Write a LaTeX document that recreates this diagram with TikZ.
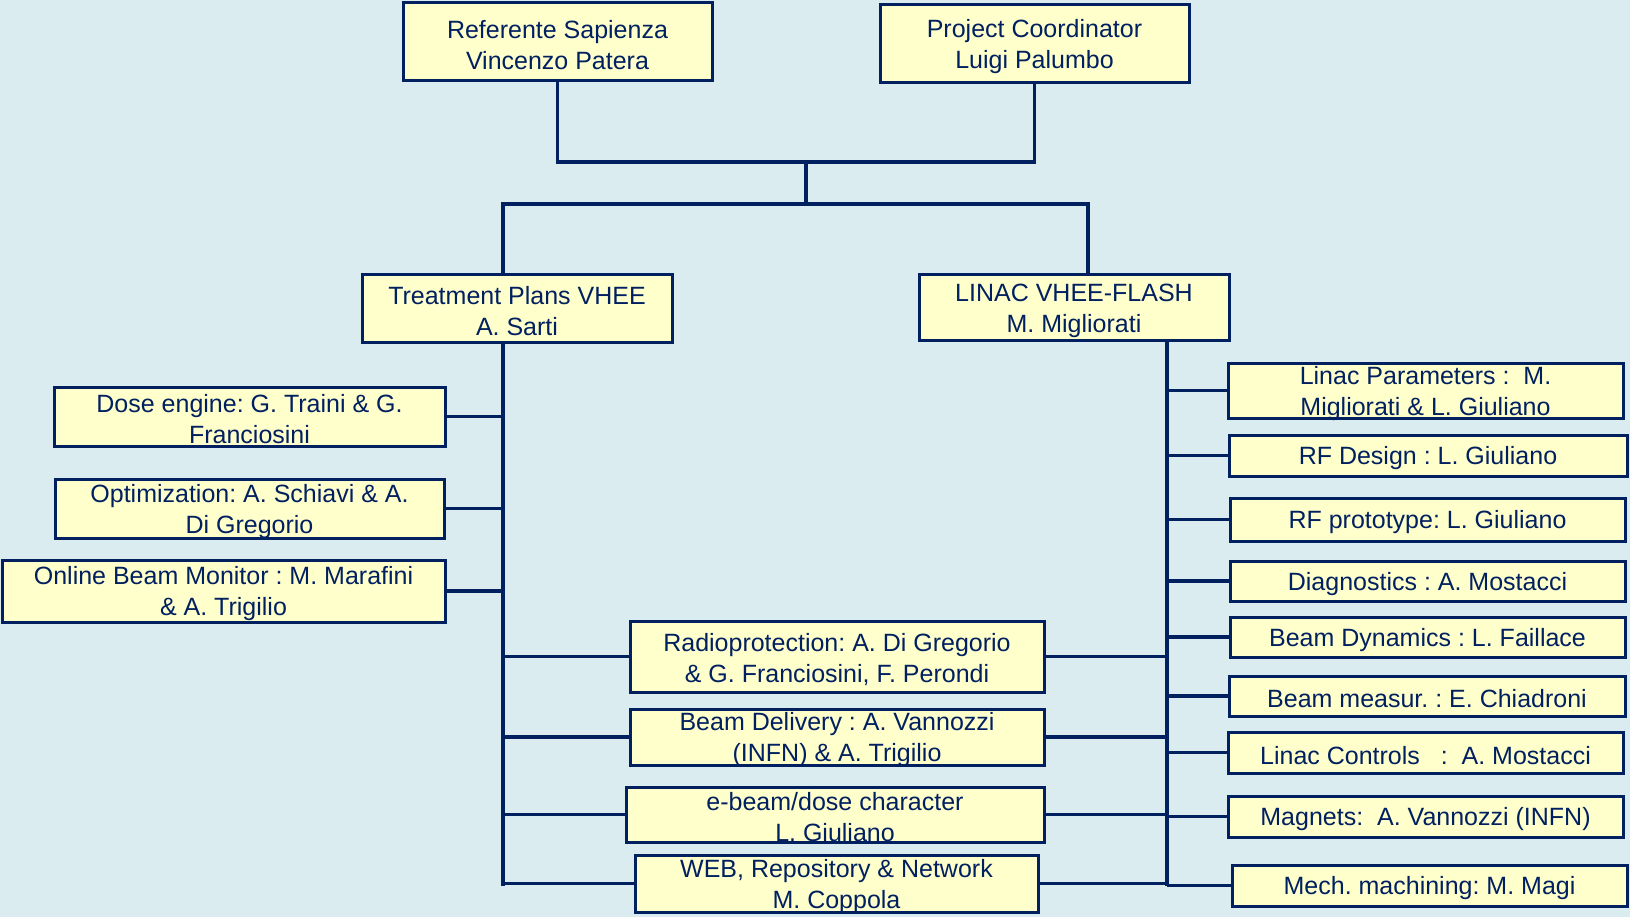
\documentclass[tikz,border=0pt]{standalone}
\usepackage{fontspec}
\setmainfont{Liberation Sans}
\frenchspacing
\definecolor{bgblue}{RGB}{219,236,240}
\definecolor{boxfill}{RGB}{255,255,204}
\definecolor{navy}{RGB}{0,32,96}
\begin{document}
\begin{tikzpicture}[x=1pt,y=-1pt,
  orgbox/.style={draw=navy, fill=boxfill, line width=3pt, inner sep=0pt, rectangle},
  lbl/.style={text=navy, align=center, inner sep=0pt, yshift=-3pt, font=\fontsize{25}{31}\selectfont},
  conn/.style={draw=navy, line width=3.5pt}]
\fill[bgblue] (0,0) rectangle (1630,917);
\useasboundingbox (0,0) rectangle (1630,917);
% boxes
\node[orgbox, minimum width=309pt, minimum height=78pt] (ref) at (557.5,42) {};
\node[orgbox, minimum width=309pt, minimum height=78pt] (pc) at (1034.5,44) {};
\node[orgbox, minimum width=310pt, minimum height=67pt] (tp) at (517,308.5) {};
\node[orgbox, minimum width=310pt, minimum height=65pt] (linac) at (1074,307.5) {};
\node[orgbox, minimum width=391pt, minimum height=59pt] (dose) at (249.5,416.5) {};
\node[orgbox, minimum width=389pt, minimum height=59pt] (opt) at (249.5,508.5) {};
\node[orgbox, minimum width=443pt, minimum height=62pt] (obm) at (223.5,591) {};
\node[orgbox, minimum width=414pt, minimum height=71pt] (radio) at (837,656.5) {};
\node[orgbox, minimum width=414pt, minimum height=56pt] (bd) at (837,737) {};
\node[orgbox, minimum width=418pt, minimum height=55pt] (ebeam) at (835,814.5) {};
\node[orgbox, minimum width=403pt, minimum height=57pt] (web) at (836.5,883.5) {};
\node[orgbox, minimum width=395pt, minimum height=55pt] (lp) at (1425.5,390.5) {};
\node[orgbox, minimum width=398pt, minimum height=41pt] (rfd) at (1428,455.5) {};
\node[orgbox, minimum width=395pt, minimum height=43pt] (rfp) at (1427.5,519.5) {};
\node[orgbox, minimum width=395pt, minimum height=40pt] (diag) at (1427.5,581) {};
\node[orgbox, minimum width=395pt, minimum height=40pt] (bdyn) at (1427.5,637) {};
\node[orgbox, minimum width=396pt, minimum height=40pt] (bm) at (1427,696) {};
\node[orgbox, minimum width=395pt, minimum height=41pt] (lc) at (1425.5,752.5) {};
\node[orgbox, minimum width=395pt, minimum height=41pt] (mag) at (1425.5,816.5) {};
\node[orgbox, minimum width=395pt, minimum height=41pt] (mech) at (1429.5,885.5) {};
% texts
\node[lbl] (refT) at (ref) {Referente Sapienza\\Vincenzo Patera};
\node[lbl] (pcT) at (pc) {Project Coordinator\\Luigi Palumbo};
\node[lbl] (tpT) at (tp) {Treatment Plans VHEE\\A. Sarti};
\node[lbl] (linacT) at (linac) {LINAC VHEE-FLASH\\M. Migliorati};
\node[lbl] (doseT) at (dose) {Dose engine: G. Traini \& G.\\Franciosini};
\node[lbl] (optT) at (opt) {Optimization: A. Schiavi \& A.\\Di Gregorio};
\node[lbl] (obmT) at (obm) {Online Beam Monitor : M. Marafini\\\& A. Trigilio};
\node[lbl] (radioT) at (radio) {Radioprotection: A. Di Gregorio\\\& G. Franciosini, F. Perondi};
\node[lbl] (bdT) at (bd) {Beam Delivery : A. Vannozzi\\(INFN) \& A. Trigilio};
\node[lbl] (ebeamT) at (ebeam) {e-beam/dose character\\L. Giuliano};
\node[lbl] (webT) at (web) {WEB, Repository \& Network\\M. Coppola};
\node[lbl] (lpT) at (lp) {Linac Parameters :\ \ M.\\Migliorati \& L. Giuliano};
\node[lbl] (rfdT) at (rfd) {RF Design : L. Giuliano};
\node[lbl] (rfpT) at (rfp) {RF prototype: L. Giuliano};
\node[lbl] (diagT) at (diag) {Diagnostics : A. Mostacci};
\node[lbl] (bdynT) at (bdyn) {Beam Dynamics : L. Faillace};
\node[lbl] (bmT) at (bm) {Beam measur. : E. Chiadroni};
\node[lbl] (lcT) at (lc) {Linac Controls\ \ \ :\ \ A. Mostacci};
\node[lbl] (magT) at (mag) {Magnets:\ \ A. Vannozzi (INFN)};
\node[lbl] (mechT) at (mech) {Mech. machining: M. Magi};
% junctions
\coordinate (j1) at (806,162);
\coordinate (j2) at (806,204);
\coordinate (lt) at (503,204);
\coordinate (rt) at (1088,204);
\coordinate (lb) at (503,886);
\coordinate (rb) at (1167,886);
% connectors
\draw[conn] (ref.south) |- (j1) -| (pc.south);
\draw[conn] (j1) -- (j2);
\draw[conn] (lt |- tp.north) -- (lt) -- (rt) -- (rt |- linac.north);
\draw[conn] (lt |- tp.south) -- (lb);
\draw[conn] (rb |- linac.south) -- (rb);
\foreach \b in {dose,opt,obm}{\draw[conn] (\b.east) -- (\b.east -| lb);}
\foreach \b in {radio,bd,ebeam,web}{
  \draw[conn] (\b.west) -- (\b.west -| lb);
  \draw[conn] (\b.east) -- (\b.east -| rb);}
\foreach \b in {lp,rfd,rfp,diag,bdyn,bm,lc,mag,mech}{\draw[conn] (\b.west) -- (\b.west -| rb);}
\end{tikzpicture}
\end{document}
